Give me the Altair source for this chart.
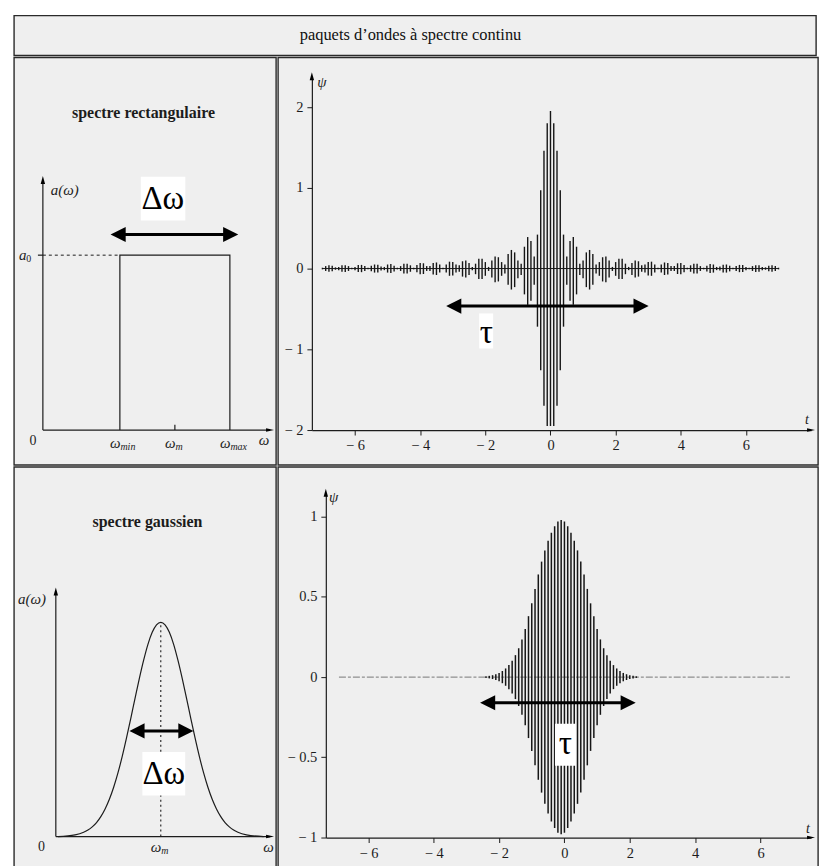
import altair as alt
import pandas as pd

INK = "#1c1c1c"
PAPER = "#efefef"
SERIF = "Liberation Serif, DejaVu Serif, serif"

# ---------------- data ----------------
header_text = "paquets d\u2019ondes à spectre continu"
tl_title = "spectre rectangulaire"
bl_title = "spectre gaussien"

# top-left : rectangular spectrum a(omega)
tl_x_dom = [0.0, 4.13]
tl_y_dom = [0.0, 1.43]
rect_w = [1.4, 1.4, 3.4, 3.4]
rect_a = [0.0, 1.0, 1.0, 0.0]
tl_w_ticks = [1.4, 2.4, 3.4]
tl_w_subs = ["min", "m", "max"]
tl_a0 = 1.0

# top-right : packet of the rectangular spectrum (one stroke per carrier cycle)
tr_x_dom = [-7.324, 7.997]
tr_y_dom = [-2.0, 2.38]
tr_ticks_x = [-6, -4, -2, 0, 2, 4, 6]
tr_ticks_y = [-2, -1, 0, 1, 2]
tr_t_half = [0.0, 0.1, 0.2, 0.3, 0.4, 0.5, 0.6, 0.7, 0.8, 0.9,
             1.0, 1.1, 1.2, 1.3, 1.4, 1.5, 1.6, 1.7, 1.8, 1.9,
             2.0, 2.1, 2.2, 2.3, 2.4, 2.5, 2.6, 2.7, 2.8, 2.9,
             3.0, 3.1, 3.2, 3.3, 3.4, 3.5, 3.6, 3.7, 3.8, 3.9,
             4.0, 4.1, 4.2, 4.3, 4.4, 4.5, 4.6, 4.7, 4.8, 4.9,
             5.0, 5.1, 5.2, 5.3, 5.4, 5.5, 5.6, 5.7, 5.8, 5.9,
             6.0, 6.1, 6.2, 6.3, 6.4, 6.5, 6.6, 6.7, 6.8, 6.9, 7.0]
tr_top_half = [1.95, 1.80, 1.46, 0.97, 0.42, 0.15, 0.34, 0.39, 0.27, 0.06,
               0.10, 0.20, 0.23, 0.18, 0.05, 0.08, 0.14, 0.15, 0.10, 0.02,
               0.08, 0.12, 0.12, 0.06, 0.02, 0.07, 0.10, 0.09, 0.04, 0.05,
               0.08, 0.085, 0.05, 0.01, 0.05, 0.075, 0.07, 0.03, 0.03, 0.065,
               0.068, 0.045, 0.01, 0.04, 0.06, 0.058, 0.03, 0.01, 0.035, 0.055,
               0.05, 0.02, 0.025, 0.048, 0.05, 0.035, 0.01, 0.03, 0.045, 0.044,
               0.02, 0.01, 0.03, 0.042, 0.04, 0.02, 0.015, 0.035, 0.04, 0.03, 0.01]
tr_bot_half = [1.95, 1.95, 1.70, 1.26, 0.72, 0.20, 0.40, 0.45, 0.32, 0.08,
               0.12, 0.23, 0.26, 0.20, 0.06, 0.09, 0.16, 0.17, 0.11, 0.03,
               0.09, 0.13, 0.13, 0.07, 0.02, 0.08, 0.11, 0.10, 0.04, 0.05,
               0.085, 0.09, 0.05, 0.01, 0.05, 0.08, 0.075, 0.03, 0.03, 0.068,
               0.07, 0.045, 0.01, 0.04, 0.062, 0.06, 0.03, 0.01, 0.036, 0.056,
               0.05, 0.02, 0.025, 0.048, 0.05, 0.035, 0.01, 0.03, 0.045, 0.044,
               0.02, 0.01, 0.03, 0.042, 0.04, 0.02, 0.015, 0.035, 0.04, 0.03, 0.01]
tr_line_span = [-7.0, 7.0]

# bottom-left : gaussian spectrum
bl_x_dom = [0.0, 5.0]
bl_y_dom = [0.0, 1.144]
bl_w = [0.05, 0.45, 0.65, 0.75, 0.85, 0.95, 1.05, 1.15, 1.25, 1.35,
        1.45, 1.55, 1.65, 1.75, 1.85, 1.95, 2.05, 2.15, 2.25, 2.35,
        2.45,
        2.55, 2.65, 2.75, 2.85, 2.95, 3.05, 3.15, 3.25, 3.35, 3.45,
        3.55, 3.65, 3.75, 3.85, 3.95, 4.05, 4.15, 4.25, 4.45, 4.85]
bl_a = [0.0, 0.008, 0.02, 0.03, 0.045, 0.065, 0.093, 0.129, 0.174, 0.23,
        0.297, 0.374, 0.46, 0.552, 0.646, 0.738, 0.823, 0.897, 0.953, 0.988,
        1.0,
        0.988, 0.953, 0.897, 0.823, 0.738, 0.646, 0.552, 0.46, 0.374, 0.297,
        0.23, 0.174, 0.129, 0.093, 0.065, 0.045, 0.03, 0.02, 0.008, 0.0]
bl_wm = 2.45

# bottom-right : gaussian packet
br_x_dom = [-7.302, 7.546]
br_y_dom = [-1.0, 1.149]
br_ticks_x = [-6, -4, -2, 0, 2, 4, 6]
br_ticks_y = [-1, -0.5, 0, 0.5, 1]
br_center = -0.1
br_t_half = [0.0, 0.1, 0.2, 0.3, 0.4, 0.5, 0.6, 0.7, 0.8, 0.9,
             1.0, 1.1, 1.2, 1.3, 1.4, 1.5, 1.6, 1.7, 1.8, 1.9,
             2.0, 2.1, 2.2, 2.3]
br_amp_half = [0.98, 0.97, 0.94, 0.90, 0.85, 0.79, 0.72, 0.64, 0.55, 0.46,
               0.38, 0.30, 0.235, 0.18, 0.137, 0.102, 0.075, 0.054, 0.038, 0.026,
               0.018, 0.012, 0.008, 0.005]
br_line_span = [-6.9, 6.9]

# annotations (double arrows and their labels)
tl_dw_heads = [1.368, 3.415]
tl_dw_y = 1.118
tl_dw_box = [1.78, 2.59, 1.198, 1.449]
tl_dw_text = [2.18, 1.32]
bl_dw_heads = [1.895, 3.035]
bl_dw_y = 0.493
bl_dw_box = [2.02, 3.02, 0.191, 0.395]
bl_dw_text = [2.52, 0.293]
tr_tau_heads = [-2.97, 2.78]
tr_tau_y = -0.465
tr_tau_box = [-2.19, -1.76, -0.99, -0.556]
tr_tau_text = [-1.97, -0.80]
br_tau_heads = [-2.35, 1.95]
br_tau_y = -0.16
br_tau_box = [-0.29, 0.35, -0.553, -0.29]
br_tau_text = [0.03, -0.42]

# ---------------- helpers ----------------
UP = "M-0.55,1L0,-1L0.55,1Z"
RIGHT = "M-1,-0.45L1,0L-1,0.45Z"
BIG_L = "M1,-1L-1,0L1,1Z"
BIG_R = "M-1,-1L1,0L-1,1Z"
NEG_EXPR = "datum.value < 0 ? '\u2212 ' + (-datum.value) : '' + datum.value"


def sc(dom, rng):
    return alt.Scale(domain=dom, range=rng, nice=False, zero=False)


def ex(f, s, ax):
    return alt.X(f + ":Q", scale=s, axis=ax)


def ey(f, s, ax):
    return alt.Y(f + ":Q", scale=s, axis=ax)


def segs(rows, P, **mk):
    d = pd.DataFrame(rows, columns=["x", "x2", "y", "y2"])
    return alt.Chart(d).mark_rule(**mk).encode(
        x=ex("x", P["xs"], P["ax"]), x2="x2:Q",
        y=ey("y", P["ys"], P["ay"]), y2="y2:Q")


def heads(xv, yv, shapes, size, P):
    d = pd.DataFrame({"x": xv, "y": yv, "s": shapes})
    return alt.Chart(d).mark_point(filled=True, size=size, color="black",
                                   opacity=1, strokeWidth=0).encode(
        x=ex("x", P["xs"], P["ax"]), y=ey("y", P["ys"], P["ay"]),
        shape=alt.Shape("s:N", scale=None))


def texts(xv, yv, labels, P, **mk):
    d = pd.DataFrame({"x": xv, "y": yv, "t": labels})
    return alt.Chart(d).mark_text(**mk).encode(
        x=ex("x", P["xs"], P["ax"]), y=ey("y", P["ys"], P["ay"]), text="t:N")


def box(b, P):
    d = pd.DataFrame({"x": [b[0]], "x2": [b[1]], "y": [b[2]], "y2": [b[3]]})
    return alt.Chart(d).mark_rect(color="white").encode(
        x=ex("x", P["xs"], P["ax"]), x2="x2:Q",
        y=ey("y", P["ys"], P["ay"]), y2="y2:Q")


def double_arrow(hx, hy, P):
    return [segs([[hx[0], hx[1], hy, hy]], P, color="black", strokeWidth=3),
            heads(hx, [hy, hy], [BIG_L, BIG_R], 230, P)]


def axis(values, offset):
    return alt.Axis(values=values, offset=offset, title=None, grid=False,
                    domainColor=INK, domainWidth=1.2, tickColor=INK, tickWidth=1,
                    tickSize=5, labelFont=SERIF, labelFontSize=14.5, labelColor=INK,
                    labelPadding=4, labelFlush=False, labelOverlap=False,
                    labelExpr=NEG_EXPR)


ITAL = dict(font=SERIF, fontStyle="italic", color=INK)

# ---------------- header ----------------
header = alt.Chart(pd.DataFrame({"t": [header_text]})).mark_text(
    font=SERIF, fontSize=16.5, color="#111").encode(
    x=alt.value(398), y=alt.value(20), text="t:N").properties(width=805, height=40)

# ---------------- top-left ----------------
P = dict(xs=sc(tl_x_dom, [29, 257]), ys=sc(tl_y_dom, [374, 123]), ax=None, ay=None)
tl_layers = [
    segs([[0, 0, 0, tl_y_dom[1]], [0, tl_x_dom[1], 0, 0],
          [tl_w_ticks[1], tl_w_ticks[1], 0, 0.03], [-0.09, 0, tl_a0, tl_a0]],
         P, color=INK, strokeWidth=1.2),
    segs([[0, rect_w[0], tl_a0, tl_a0]], P, color=INK, strokeWidth=1, strokeDash=[3, 3]),
    alt.Chart(pd.DataFrame({"w": rect_w, "a": rect_a, "i": list(range(len(rect_w)))}))
    .mark_line(color=INK, strokeWidth=1.2).encode(
        x=ex("w", P["xs"], None), y=ey("a", P["ys"], None), order="i:Q"),
    heads([0, tl_x_dom[1]], [tl_y_dom[1], 0], [UP, RIGHT], 64, P),
    texts([1.83], [1.81], [tl_title], P, font=SERIF, fontSize=16, fontWeight="bold", color=INK),
    texts([0.145, -0.435], [1.37, tl_a0], ["a(\u03c9)", "a"], P, align="left", fontSize=15, **ITAL),
    texts([-0.3], [tl_a0], ["0"], P, align="left", fontSize=10, dy=4, font=SERIF, color=INK),
    texts([v + 0.01 for v in tl_w_ticks], [-0.074] * 3, ["\u03c9"] * 3, P,
          align="right", fontSize=15, **ITAL),
    texts([v + 0.01 for v in tl_w_ticks], [-0.074] * 3, tl_w_subs, P,
          align="left", fontSize=10, dy=4, **ITAL),
    texts([4.02], [-0.057], ["\u03c9"], P, fontSize=15, **ITAL),
    texts([-0.18], [-0.063], ["0"], P, fontSize=14, font=SERIF, color=INK),
] + double_arrow(tl_dw_heads, tl_dw_y, P) + [
    box(tl_dw_box, P),
    texts([tl_dw_text[0]], [tl_dw_text[1]], ["\u0394\u03c9"], P, font=SERIF, fontSize=33, color="black"),
]
tl = alt.layer(*tl_layers).properties(width=263, height=409)

# ---------------- top-right ----------------
P = dict(xs=sc(tr_x_dom, [34, 535]), ys=sc(tr_y_dom, [374, 19]),
         ax=axis(tr_ticks_x, -35), ay=axis(tr_ticks_y, -34))
tr_t = [-v for v in tr_t_half[:0:-1]] + tr_t_half
tr_top = tr_top_half[:0:-1] + tr_top_half
tr_bot = [-v for v in (tr_bot_half[:0:-1] + tr_bot_half)]
tr_df = pd.DataFrame({"t": tr_t, "top": tr_top, "bot": tr_bot})
tr_layers = [
    segs([[tr_line_span[0], tr_line_span[1], 0, 0]], P, color=INK, strokeWidth=1),
    alt.Chart(tr_df).mark_rule(color="#161616", strokeWidth=1.4).encode(
        x=ex("t", P["xs"], P["ax"]), y=ey("top", P["ys"], P["ay"]), y2="bot:Q"),
    heads([tr_x_dom[0], tr_x_dom[1]], [tr_y_dom[1], tr_y_dom[0]], [UP, RIGHT], 64, P),
    texts([-7.02], [2.31], ["\u03c8"], P, fontSize=15, **ITAL),
    texts([7.87], [-1.88], ["t"], P, fontSize=14, **ITAL),
] + double_arrow(tr_tau_heads, tr_tau_y, P) + [
    box(tr_tau_box, P),
    texts([tr_tau_text[0]], [tr_tau_text[1]], ["\u03c4"], P, font=SERIF, fontSize=33, color="black"),
]
tr = alt.layer(*tr_layers).properties(width=542, height=409)

# ---------------- bottom-left ----------------
P = dict(xs=sc(bl_x_dom, [42, 257]), ys=sc(bl_y_dom, [371, 125]), ax=None, ay=None)
bl_layers = [
    segs([[0, 0, 0, bl_y_dom[1]], [0, bl_x_dom[1], 0, 0]], P, color=INK, strokeWidth=1.2),
    segs([[bl_wm, bl_wm, 0, 1.0]], P, color=INK, strokeWidth=1.1, strokeDash=[2, 3]),
    alt.Chart(pd.DataFrame({"w": bl_w, "a": bl_a})).mark_line(
        color=INK, strokeWidth=1.2, interpolate="monotone").encode(
        x=ex("w", P["xs"], None), y=ey("a", P["ys"], None)),
    heads([0, bl_x_dom[1]], [bl_y_dom[1], 0], [UP, RIGHT], 64, P),
    texts([2.14], [1.47], [bl_title], P, font=SERIF, fontSize=16, fontWeight="bold", color=INK),
    texts([-0.88], [1.107], ["a(\u03c9)"], P, align="left", fontSize=15, **ITAL),
    texts([bl_wm + 0.01], [-0.047], ["\u03c9"], P, align="right", fontSize=15, **ITAL),
    texts([bl_wm + 0.01], [-0.047], ["m"], P, align="left", fontSize=10, dy=4, **ITAL),
    texts([4.965], [-0.047], ["\u03c9"], P, fontSize=15, **ITAL),
    texts([-0.337], [-0.047], ["0"], P, fontSize=14, font=SERIF, color=INK),
] + double_arrow(bl_dw_heads, bl_dw_y, P) + [
    box(bl_dw_box, P),
    texts([bl_dw_text[0]], [bl_dw_text[1]], ["\u0394\u03c9"], P, font=SERIF, fontSize=33, color="black"),
]
bl = alt.layer(*bl_layers).properties(width=263, height=404)

# ---------------- bottom-right ----------------
P = dict(xs=sc(br_x_dom, [48, 535]), ys=sc(br_y_dom, [372, 26]),
         ax=axis(br_ticks_x, -32), ay=axis(br_ticks_y, -48))
br_t = [round(br_center - v, 2) for v in br_t_half[:0:-1]] + [round(br_center + v, 2) for v in br_t_half]
br_amp = br_amp_half[:0:-1] + br_amp_half
br_df = pd.DataFrame({"t": br_t, "top": br_amp, "bot": [-v for v in br_amp]})
br_layers = [
    segs([[br_line_span[0], br_line_span[1], 0, 0]], P, color="#777", strokeWidth=1,
         strokeDash=[7, 2, 3, 2]),
    alt.Chart(br_df).mark_rule(color="#161616", strokeWidth=1.5).encode(
        x=ex("t", P["xs"], P["ax"]), y=ey("top", P["ys"], P["ay"]), y2="bot:Q"),
    heads([br_x_dom[0], br_x_dom[1]], [br_y_dom[1], br_y_dom[0]], [UP, RIGHT], 64, P),
    texts([-7.06], [1.124], ["\u03c8"], P, fontSize=15, **ITAL),
    texts([7.45], [-0.944], ["t"], P, fontSize=14, **ITAL),
] + double_arrow(br_tau_heads, br_tau_y, P) + [
    box(br_tau_box, P),
    texts([br_tau_text[0]], [br_tau_text[1]], ["\u03c4"], P, font=SERIF, fontSize=33, color="black"),
]
br = alt.layer(*br_layers).properties(width=542, height=404)

chart = alt.vconcat(
    header,
    alt.hconcat(tl, tr, spacing=0),
    alt.hconcat(bl, br, spacing=0),
    spacing=0,
).properties(
    padding={"left": 5, "top": 5, "right": 0, "bottom": 0},
    background="white",
).configure_view(stroke="#2a2a2a", strokeWidth=1.4, fill=PAPER)

chart.save("out.html", embed_options={"renderer": "svg", "actions": False})
